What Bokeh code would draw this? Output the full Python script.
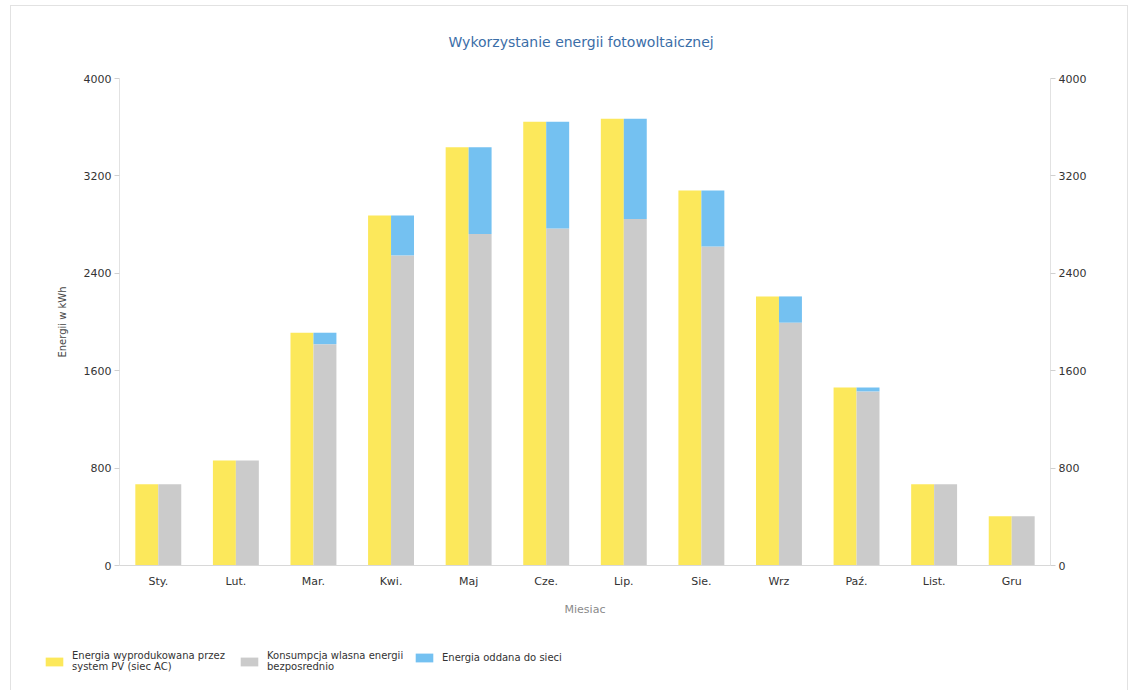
from bokeh.plotting import figure
from bokeh.layouts import column
from bokeh.models import (ColumnDataSource, FactorRange, Range1d, LinearAxis,
                          FixedTicker, Legend, LegendItem, Title)
from bokeh.transform import dodge
from bokeh.embed import file_html
from bokeh.resources import INLINE

# Monthly photovoltaic energy balance (kWh)
months = ["Sty.", "Lut.", "Mar.", "Kwi.", "Maj", "Cze.", "Lip.", "Sie.", "Wrz", "Paź.", "List.", "Gru"]
produced = [668, 862, 1912, 2875, 3435, 3644, 3669, 3080, 2210, 1462, 668, 404]
self_used = [668, 862, 1818, 2547, 2723, 2767, 2847, 2620, 1995, 1430, 668, 404]
fed_to_grid = [0, 0, 94, 328, 712, 877, 822, 460, 215, 32, 0, 0]
y_ticks = [0, 800, 1600, 2400, 3200, 4000]

series_labels = ["Energia wyprodukowana przez\nsystem PV (siec AC)",
                 "Konsumpcja wlasna energii\nbezposrednio",
                 "Energia oddana do sieci"]

YELLOW = "#fce85b"
GRAY = "#cbcbcb"
BLUE = "#74c1f1"
FONT = "DejaVu Sans"
W = 1116

src = ColumnDataSource(dict(month=months, produced=produced,
                            self_used=self_used, fed_to_grid=fed_to_grid))

p = figure(width=W, height=624, x_range=FactorRange(*months, range_padding=0),
           y_range=Range1d(0, 4000), output_backend="svg", toolbar_location=None,
           tools="", min_border_left=108, min_border_right=77,
           min_border_top=72, min_border_bottom=65)
p.title = Title(text="Wykorzystanie energii fotowoltaicznej", align="left",
                vertical_align="top", text_font=FONT, text_font_size="14px",
                text_font_style="normal", text_color="#3b6ea8",
                standoff=54, offset=329)
p.outline_line_color = None
p.xgrid.grid_line_color = None
p.ygrid.grid_line_color = None

p.vbar(x=dodge("month", -0.148, range=p.x_range), top="produced", width=0.296,
       source=src, fill_color=YELLOW, line_color=None)
p.vbar_stack(["self_used", "fed_to_grid"],
             x=dodge("month", 0.148, range=p.x_range), width=0.296,
             source=src, fill_color=[GRAY, BLUE], line_color=None)

# left value axis
ya = p.yaxis[0]
ya.ticker = FixedTicker(ticks=y_ticks)
ya.axis_label = "Energii w kWh"
ya.axis_label_text_font = FONT
ya.axis_label_text_font_size = "10px"
ya.axis_label_text_font_style = "normal"
ya.axis_label_text_color = "#444444"
ya.axis_label_standoff = 13
ya.major_label_text_font = FONT
ya.major_label_text_font_size = "11px"
ya.major_label_text_color = "#333333"
ya.major_label_standoff = 3
ya.axis_line_color = "#e2e2e2"
ya.major_tick_line_color = "#d0d0d0"
ya.major_tick_out = 5
ya.major_tick_in = 0
ya.minor_tick_line_color = None

# mirrored value axis on the right
ry = LinearAxis(ticker=FixedTicker(ticks=y_ticks))
ry.major_label_text_font = FONT
ry.major_label_text_font_size = "11px"
ry.major_label_text_color = "#333333"
ry.major_label_standoff = 3
ry.axis_line_color = "#e2e2e2"
ry.major_tick_line_color = "#d0d0d0"
ry.major_tick_out = 5
ry.major_tick_in = 0
ry.minor_tick_line_color = None
p.add_layout(ry, "right")

# month axis
xa = p.xaxis[0]
xa.axis_label = "Miesiac"
xa.axis_label_text_font = FONT
xa.axis_label_text_font_size = "11px"
xa.axis_label_text_font_style = "normal"
xa.axis_label_text_color = "#8a8a8a"
xa.axis_label_standoff = 12
xa.major_label_text_font = FONT
xa.major_label_text_font_size = "11px"
xa.major_label_text_color = "#333333"
xa.major_label_standoff = 3
xa.axis_line_color = "#d8d8d8"
xa.major_tick_line_color = None
xa.minor_tick_line_color = None

# legend strip under the chart; its renderers stay hidden and only lend
# their fill colours to the legend swatches
lf = figure(width=W, height=60, x_range=Range1d(0, 1), y_range=Range1d(0, 1),
            x_axis_type=None, y_axis_type=None, output_backend="svg",
            toolbar_location=None, tools="", min_border=0)
lf.frame_align = False
lf.outline_line_color = None
keys = ["produced", "self_used", "fed_to_grid"]
colors = [YELLOW, GRAY, BLUE]
swatches = [lf.vbar(x=0.5, top=k, width=0.1, source=src, fill_color=c,
                    line_color=None, visible=False)
            for k, c in zip(keys, colors)]
offsets = [(32, 18), (227, 18), (402, 27)]
for label, rend, loc in zip(series_labels, swatches, offsets):
    lf.add_layout(Legend(items=[LegendItem(label=label, renderers=[rend])],
                         location=loc, orientation="horizontal",
                         border_line_color=None, background_fill_alpha=0,
                         padding=0, margin=0, glyph_width=22, glyph_height=11,
                         label_standoff=7, label_text_font=FONT,
                         label_text_font_size="10px", label_text_color="#333333",
                         label_text_line_height=1.4), "center")

layout = column(p, lf, margin=(5, 0, 0, 10),
                styles={"border-top": "1px solid #e2e2e2",
                        "border-left": "1px solid #e2e2e2",
                        "border-right": "1px solid #e2e2e2"})

open("out.html", "w").write(file_html(layout, INLINE))
